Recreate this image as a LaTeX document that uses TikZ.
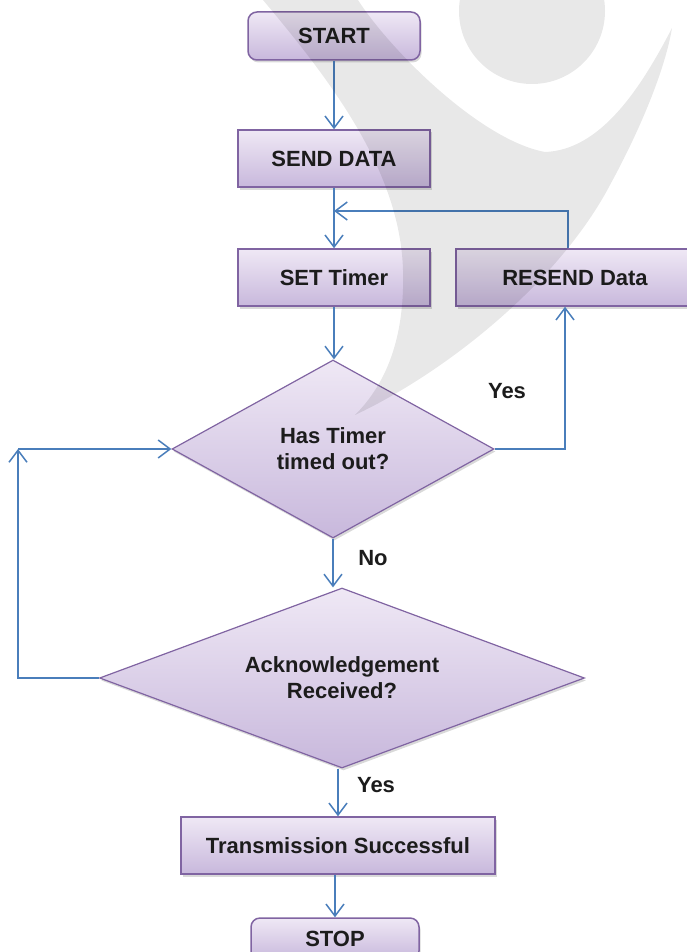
\documentclass[tikz,border=0pt]{standalone}
\usepackage{fontspec}
\setmainfont{Liberation Sans}
\usetikzlibrary{shapes.geometric,arrows.meta,shadows}

\definecolor{boxtop}{HTML}{EFE8F5}
\definecolor{boxbot}{HTML}{C8B8DC}
\definecolor{boxline}{HTML}{8064A2}
\definecolor{flow}{HTML}{4A7EBB}
\definecolor{txt}{HTML}{1C1C1C}

\tikzset{
    box/.style={draw=boxline,line width=1.5pt,top color=boxtop,bottom color=boxbot,
        minimum height=57pt,text=txt,align=center,
        font=\fontsize{22}{26}\selectfont\bfseries,
        drop shadow={shadow xshift=1.5pt,shadow yshift=-2.5pt,opacity=0.3}},
    ends/.style={box,rounded corners=9pt,minimum height=48pt},
    test/.style={box,diamond,inner sep=0pt,line width=1.2pt},
    flowline/.style={flow,line width=1.5pt,-{Straight Barb[length=12pt,width=18pt]}},
    lbl/.style={text=txt,font=\fontsize{22}{26}\selectfont\bfseries}
}

\begin{document}
\begin{tikzpicture}[x=1pt,y=-1pt]
    \useasboundingbox (0,0) rectangle (687,952);
    \node[ends,minimum width=172pt] (start) at (334,36) {START};
    \node[box,minimum width=192pt] (send) at (334,158.5) {SEND DATA};
    \node[box,minimum width=192pt] (timer) at (334,277.5) {SET Timer};
    \node[box,minimum width=238pt] (resend) at (575,277.5) {RESEND Data};
    \node[test,shape aspect=1.8,minimum width=322pt,minimum height=178pt] (timeout) at (333,449) {Has Timer\\timed out?};
    \node[test,shape aspect=2.7,minimum width=485pt,minimum height=180pt] (ack) at (342,678) {Acknowledgement\\Received?};
    \node[box,minimum width=314pt] (done) at (338,845.5) {Transmission Successful};
    \node[ends,minimum width=168pt,minimum height=42pt] (stop) at (335,939) {STOP};
    \coordinate (join) at (334,211);
    \coordinate (back) at (568,211);
    \coordinate (up) at (565,449);
    \coordinate (corner) at (18,449);
    \draw[flowline] (start) -- (send);
    \draw[flowline] (send) -- (timer);
    \draw[flowline] (resend.north -| back) -- (back) -- (join);
    \draw[flowline] (timer.south) -- (timer.south |- timeout.north);
    \draw[flowline] (timeout.east) -- (up) -- (resend.south -| up);
    \draw[flowline] (timeout.south) -- (timeout.south |- ack.north);
    \draw[flowline] (ack.west) -| (corner);
    \draw[flowline] (corner) -- (timeout.west);
    \draw[flowline] (done.north |- ack.south) -- (done.north);
    \draw[flowline] (stop.north |- done.south) -- (stop.north);
    \node[lbl] (yes1) at (507,391) {Yes};
    \node[lbl] (no) at (373,558) {No};
    \node[lbl] (yes2) at (376,785) {Yes};
    % watermark behind the chart
    \fill[black,fill opacity=0.09] (532,11) circle[radius=73pt];
    \fill[black,fill opacity=0.09] (263,0) .. controls (330,80) and (400,170) .. (403,270)
        .. controls (405,340) and (385,385) .. (355,415)
        .. controls (450,370) and (560,280) .. (610,185)
        .. controls (640,130) and (665,70) .. (672,28)
        .. controls (640,90) and (600,150) .. (545,152)
        .. controls (480,140) and (390,50) .. (358,0) -- cycle;
\end{tikzpicture}
\end{document}
